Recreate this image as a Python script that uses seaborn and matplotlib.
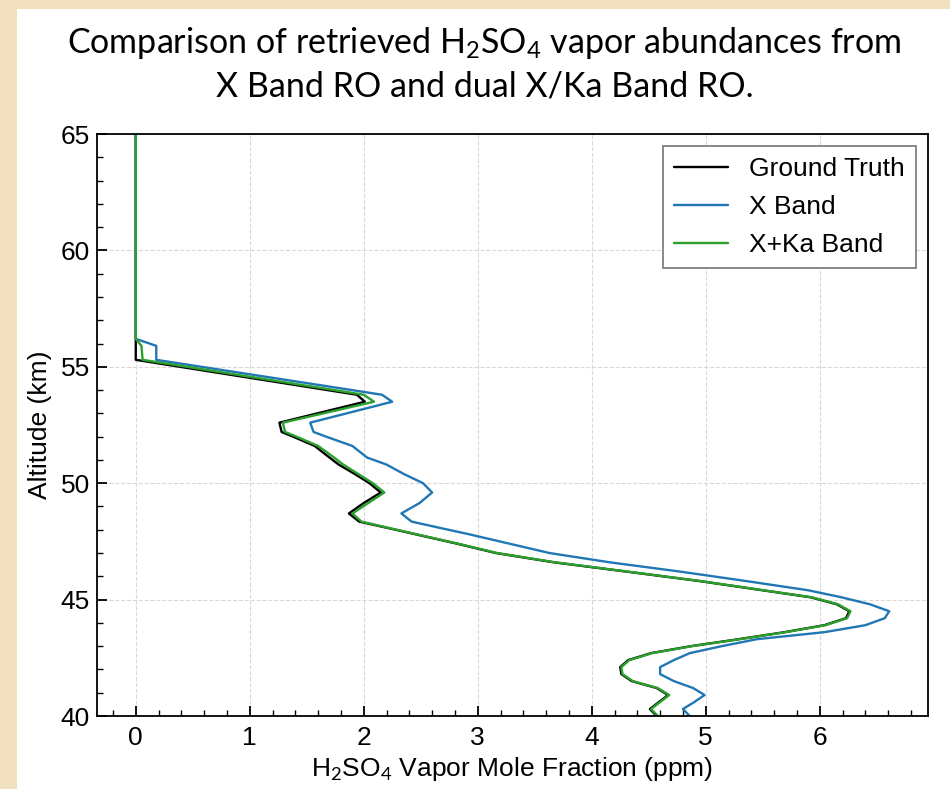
import numpy as np
import pandas as pd
import matplotlib
matplotlib.use("Agg")
import matplotlib.pyplot as plt
import seaborn as sns
from matplotlib.patches import Rectangle
from matplotlib.ticker import MultipleLocator

# ---- data ----
altitude = [40.0, 40.3, 40.6, 40.9, 41.2, 41.5, 41.8, 42.1, 42.4, 42.7, 43.0, 43.3,
            43.6, 43.9, 44.2, 44.5, 44.8, 45.1, 45.4, 45.8, 46.2, 46.6, 47.0, 47.4,
            47.8, 48.1, 48.35, 48.7, 49.15, 49.6, 50.0, 50.4, 50.8, 51.1, 51.6, 52.0,
            52.2, 52.6, 53.5, 53.8, 55.3, 55.9, 56.2, 65.0]

ground_truth = [4.57, 4.51, 4.59, 4.67, 4.57, 4.35, 4.26, 4.25, 4.32, 4.52, 4.87, 5.29,
                5.69, 6.04, 6.23, 6.26, 6.15, 5.92, 5.50, 4.94, 4.31, 3.67, 3.16, 2.82,
                2.46, 2.19, 1.96, 1.87, 2.00, 2.15, 2.05, 1.92, 1.78, 1.70, 1.57, 1.38,
                1.28, 1.26, 2.01, 1.94, 0.0, 0.0, 0.0, 0.0]

x_band = [4.86, 4.80, 4.90, 4.99, 4.89, 4.72, 4.60, 4.60, 4.72, 4.86, 5.14, 5.45,
          6.04, 6.40, 6.57, 6.61, 6.44, 6.19, 5.90, 5.35, 4.78, 4.16, 3.63, 3.28,
          2.93, 2.65, 2.42, 2.33, 2.49, 2.60, 2.52, 2.35, 2.20, 2.03, 1.90, 1.67,
          1.56, 1.53, 2.25, 2.16, 0.18, 0.18, 0.0, 0.0]

x_ka_band = [4.58, 4.52, 4.60, 4.68, 4.58, 4.36, 4.27, 4.26, 4.33, 4.53, 4.88, 5.30,
             5.70, 6.05, 6.24, 6.27, 6.16, 5.93, 5.51, 4.95, 4.32, 3.68, 3.17, 2.83,
             2.47, 2.20, 1.98, 1.90, 2.04, 2.18, 2.08, 1.95, 1.82, 1.74, 1.60, 1.41,
             1.31, 1.29, 2.09, 2.00, 0.06, 0.05, 0.0, 0.0]

series_names = ["Ground Truth", "X Band", "X+Ka Band"]
series_colors = ["#000000", "#1f77b4", "#2ca02c"]

x_ticks = [0, 1, 2, 3, 4, 5, 6]
y_ticks = [40, 45, 50, 55, 60, 65]

df = pd.concat([
    pd.DataFrame({"alt": altitude, "val": ground_truth, "series": series_names[0]}),
    pd.DataFrame({"alt": altitude, "val": x_band, "series": series_names[1]}),
    pd.DataFrame({"alt": altitude, "val": x_ka_band, "series": series_names[2]}),
], ignore_index=True)

# ---- figure ----
sns.set_style("white")
plt.rcParams["font.family"] = ["Liberation Sans", "DejaVu Sans"]
plt.rcParams["mathtext.fontset"] = "custom"
plt.rcParams["mathtext.rm"] = "Liberation Sans"
plt.rcParams["text.color"] = "black"
plt.rcParams["axes.labelcolor"] = "black"

fig = plt.figure(figsize=(9.5, 7.89), dpi=100)
fig.patch.set_facecolor("#f1e0bd")
panel = Rectangle((17 / 950, 0), 1 - 17 / 950, 1 - 9 / 789,
                  transform=fig.transFigure, facecolor="white",
                  edgecolor="none", zorder=-10)
fig.patches.append(panel)

ax = fig.add_axes([97 / 950, 1 - 716 / 789, (928 - 97) / 950, (716 - 134) / 789])
ax.set_zorder(5)
ax.set_facecolor("white")

sns.lineplot(data=df, x="val", y="alt", hue="series", hue_order=series_names,
             palette=series_colors, orient="y", sort=True, estimator=None,
             linewidth=1.7, ax=ax)

ax.set_ylim(40, 65)
ax.set_xlim(-0.34, 6.95)
ax.set_xticks(x_ticks)
ax.set_yticks(y_ticks)
ax.xaxis.set_minor_locator(MultipleLocator(0.2))
ax.yaxis.set_minor_locator(MultipleLocator(1))
ax.tick_params(which="both", bottom=True, left=True, top=False, right=False,
               direction="in", colors="black", labelcolor="black")
ax.tick_params(which="major", length=7, width=1.3, labelsize=19)
ax.tick_params(which="minor", length=4, width=1.0)
ax.tick_params(axis="x", which="major", pad=7)
ax.tick_params(axis="y", which="major", pad=5)
ax.grid(True, which="major", linestyle="--", color="#d8d8d8", linewidth=0.8)
for s in ax.spines.values():
    s.set_visible(True)
    s.set_color("black")
    s.set_linewidth(1.3)

ax.set_xlabel(r"H$_2$SO$_4$ Vapor Mole Fraction (ppm)", fontsize=19, labelpad=4,
              color="black")
ax.set_ylabel("Altitude (km)", fontsize=19, labelpad=6, color="black")

leg = ax.legend(loc="upper right", fontsize=19, frameon=True, fancybox=False,
                framealpha=1, edgecolor="#808080", handlelength=2.05,
                handletextpad=0.8, borderpad=0.42, labelspacing=0.53,
                borderaxespad=0.45)
leg.get_frame().set_linewidth(1.3)
for line in leg.get_lines():
    line.set_linewidth(1.7)
for t in leg.get_texts():
    t.set_color("black")

plt.rcParams["mathtext.rm"] = "Lato"
fig.text(0.51, 0.945, r"Comparison of retrieved H$_2$SO$_4$ vapor abundances from",
         ha="center", va="center", fontsize=24.5, family="Lato", color="black")
fig.text(0.51, 0.891, "X Band RO and dual X/Ka Band RO.", ha="center",
         va="center", fontsize=24.5, family="Lato", color="black")

fig.savefig("out.png", dpi=100, facecolor=fig.get_facecolor())
